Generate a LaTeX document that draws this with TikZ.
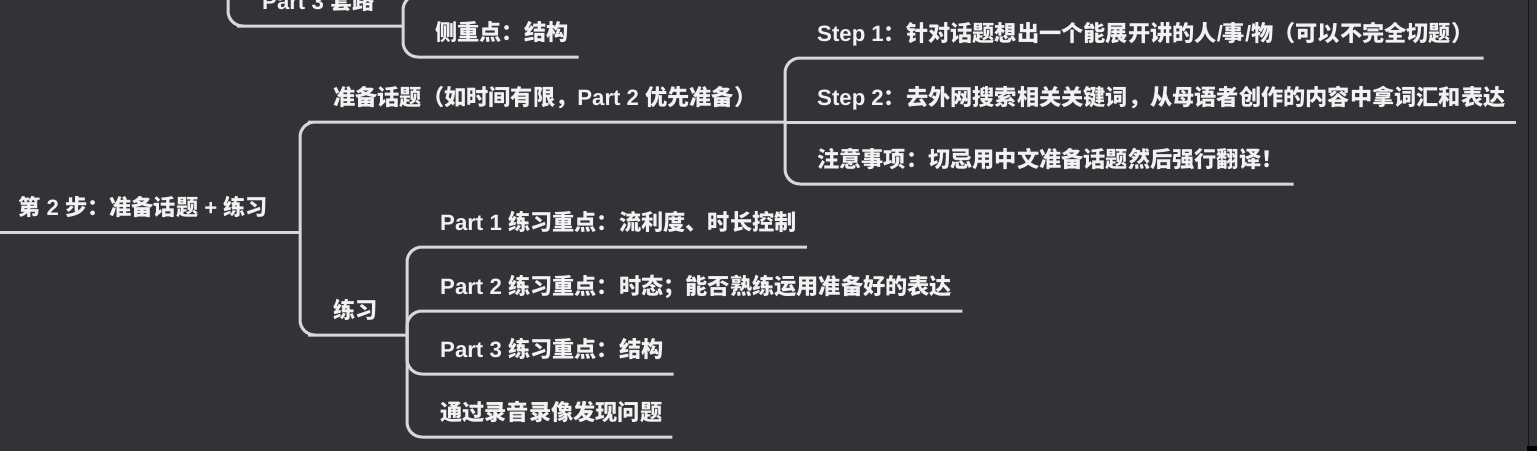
\documentclass[tikz,border=0pt]{standalone}
\usepackage{fontspec}
\setmainfont{Noto Sans CJK SC}
\newfontfamily\latfont{Liberation Sans}
\newcommand{\lat}[1]{{\latfont #1}}
\definecolor{bgdark}{HTML}{333337}
\definecolor{linegrey}{HTML}{D8D8D8}
\definecolor{textwhite}{HTML}{F2F2F2}
\begin{document}
\begin{tikzpicture}[
    x=1pt, y=-1pt,
    topic/.style={anchor=south west, inner xsep=10pt, inner ysep=16pt,
                  text depth=0pt, text=textwhite,
                  font=\fontsize{22.2}{25}\selectfont\bfseries},
    branch/.style={draw=linegrey, line width=3pt, rounded corners=15pt}
]
\clip (0,0) rectangle (1537,451);
\fill[bgdark] (0,0) rectangle (1537,451);
\draw[line width=1pt, color=black!60!bgdark] (1528,0) -- (1528,451);
\fill[black] (1527,446) rectangle (1537,451);

% step 2 and its branches
\node[topic] (root) at (8,232) {第\lat{ 2 }步：准备话题\lat{ + }练习};
\node[topic] (prep) at (323,122) {准备话题（如时间有限，\lat{Part 2 }优先准备）};
\node[topic] (prac) at (323,335) {练习};

\node[topic] (s1) at (807,58) {\lat{Step 1}：针对话题想出一个能展开讲的人\lat{/}事\lat{/}物（可以不完全切题）};
\node[topic] (s2) at (807,122) {\lat{Step 2}：去外网搜索相关关键词，从母语者创作的内容中拿词汇和表达};
\node[topic] (s3) at (807,184) {注意事项：切忌用中文准备话题然后强行翻译！};

\node[topic] (p1) at (430,247) {\lat{Part 1 }练习重点：流利度、时长控制};
\node[topic] (p2) at (430,311) {\lat{Part 2 }练习重点：时态；能否熟练运用准备好的表达};
\node[topic] (p3) at (430,374) {\lat{Part 3 }练习重点：结构};
\node[topic] (p4) at (430,437) {通过录音录像发现问题};

% tail of step 1 (cut off at the top)
\node[topic] (tao) at (252,26) {\lat{Part 3 }套路};
\node[topic] (ce) at (425,57) {侧重点：结构};

\coordinate (rootL) at (0,232);
\coordinate (j0) at (300,232);
\coordinate (jp) at (785,122);
\coordinate (jq) at (407,335);
\coordinate (jt) at (403,26);
\coordinate (jtop) at (228,-30);
\coordinate (up) at (520,-5);

\draw[branch] (rootL) -- (j0);
\draw[branch] (j0) |- (prep.south west) -- (jp);
\draw[branch] (j0) |- (prac.south west) -- (jq);

\draw[branch] (jp) |- (s1.south east);
\draw[branch] (jp) -- (s2.south east);
\draw[branch] (jp) |- (s3.south east);

\draw[branch] (jq) |- (p1.south east);
\draw[branch] (jq) |- (p2.south east);
\draw[branch] (jq) |- (p3.south east);
\draw[branch] (jq) |- (p4.south east);

\draw[branch] (jtop) |- (tao.south west) -- (jt);
\draw[branch] (jt) |- (ce.south east);
\draw[branch] (jt) |- (up);
\end{tikzpicture}
\end{document}
